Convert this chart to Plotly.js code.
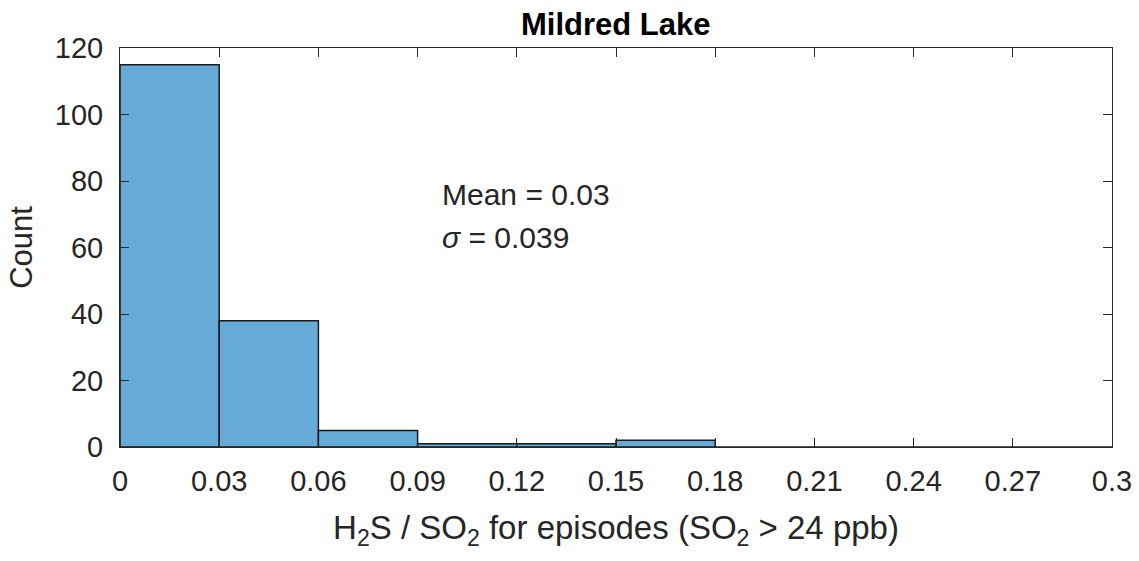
<!DOCTYPE html>
<html>
<head>
<meta charset="utf-8">
<script src="https://cdn.plot.ly/plotly-3.0.1.min.js"></script>
<style>html,body{margin:0;padding:0;background:#fff;}#chart{width:1139px;height:561px;}</style>
</head>
<body>
<div id="chart"></div>
<script>
// Histogram of H2S/SO2 ratios, bin edges every 0.03
const binStarts = [0, 0.03, 0.06, 0.09, 0.12, 0.15, 0.18, 0.21, 0.24, 0.27];
const counts = [115, 38, 5, 1, 1, 2, 0, 0, 0, 0];
const binWidth = 0.03;
const xTicks = [0, 0.03, 0.06, 0.09, 0.12, 0.15, 0.18, 0.21, 0.24, 0.27, 0.3];
const xTickText = ['0', '0.03', '0.06', '0.09', '0.12', '0.15', '0.18', '0.21', '0.24', '0.27', '0.3'];
const yTicks = [0, 20, 40, 60, 80, 100, 120];

const centers = binStarts.map(s => s + binWidth / 2);
const ink = '#262626';

const trace = {
  type: 'bar',
  x: centers,
  y: counts,
  width: binWidth,
  marker: {color: 'rgb(102,170,215)', line: {color: '#1a1a1a', width: 1.5}},
  hoverinfo: 'x+y'
};

const layout = {
  width: 1139, height: 561,
  margin: {l: 120, r: 27, t: 48, b: 114},
  paper_bgcolor: '#fff', plot_bgcolor: '#fff',
  font: {family: 'Liberation Sans, Arial, sans-serif', size: 29, color: ink},
  title: {text: '<b>Mildred Lake</b>', font: {size: 31, color: '#000'},
          x: 0.5406, xref: 'container', xanchor: 'center', y: 0.957, yref: 'container', yanchor: 'middle'},
  showlegend: false,
  bargap: 0,
  xaxis: {
    range: [0, 0.3], tickvals: xTicks, ticktext: xTickText,
    ticks: 'inside', ticklen: 9, tickcolor: ink, tickwidth: 1,
    ticklabelstandoff: 8,
    tickfont: {size: 29, color: ink},
    showline: true, linecolor: ink, linewidth: 1, mirror: 'ticks',
    showgrid: false, zeroline: false,
    title: {text: 'H<sub>2</sub>S / SO<sub>2</sub> for episodes (SO<sub>2</sub> > 24 ppb)', font: {size: 33, color: ink}, standoff: 20}
  },
  yaxis: {
    range: [0, 120], tickvals: yTicks,
    ticks: 'inside', ticklen: 9, tickcolor: ink, tickwidth: 1,
    ticklabelstandoff: 10,
    tickfont: {size: 29, color: ink},
    showline: true, linecolor: ink, linewidth: 1, mirror: 'ticks',
    showgrid: false, zeroline: false,
    title: {text: 'Count', font: {size: 31, color: ink}, standoff: 12}
  },
  annotations: [
    {xref: 'paper', yref: 'paper', x: 0.323, y: 0.633, xanchor: 'left', yanchor: 'middle', showarrow: false,
     text: 'Mean = 0.03', font: {size: 30, color: ink}},
    {xref: 'paper', yref: 'paper', x: 0.323, y: 0.524, xanchor: 'left', yanchor: 'middle', showarrow: false,
     text: '<i>σ</i> = 0.039', font: {size: 30, color: ink}}
  ]
};

Plotly.newPlot('chart', [trace], layout, {displayModeBar: false, staticPlot: true});
</script>
</body>
</html>
